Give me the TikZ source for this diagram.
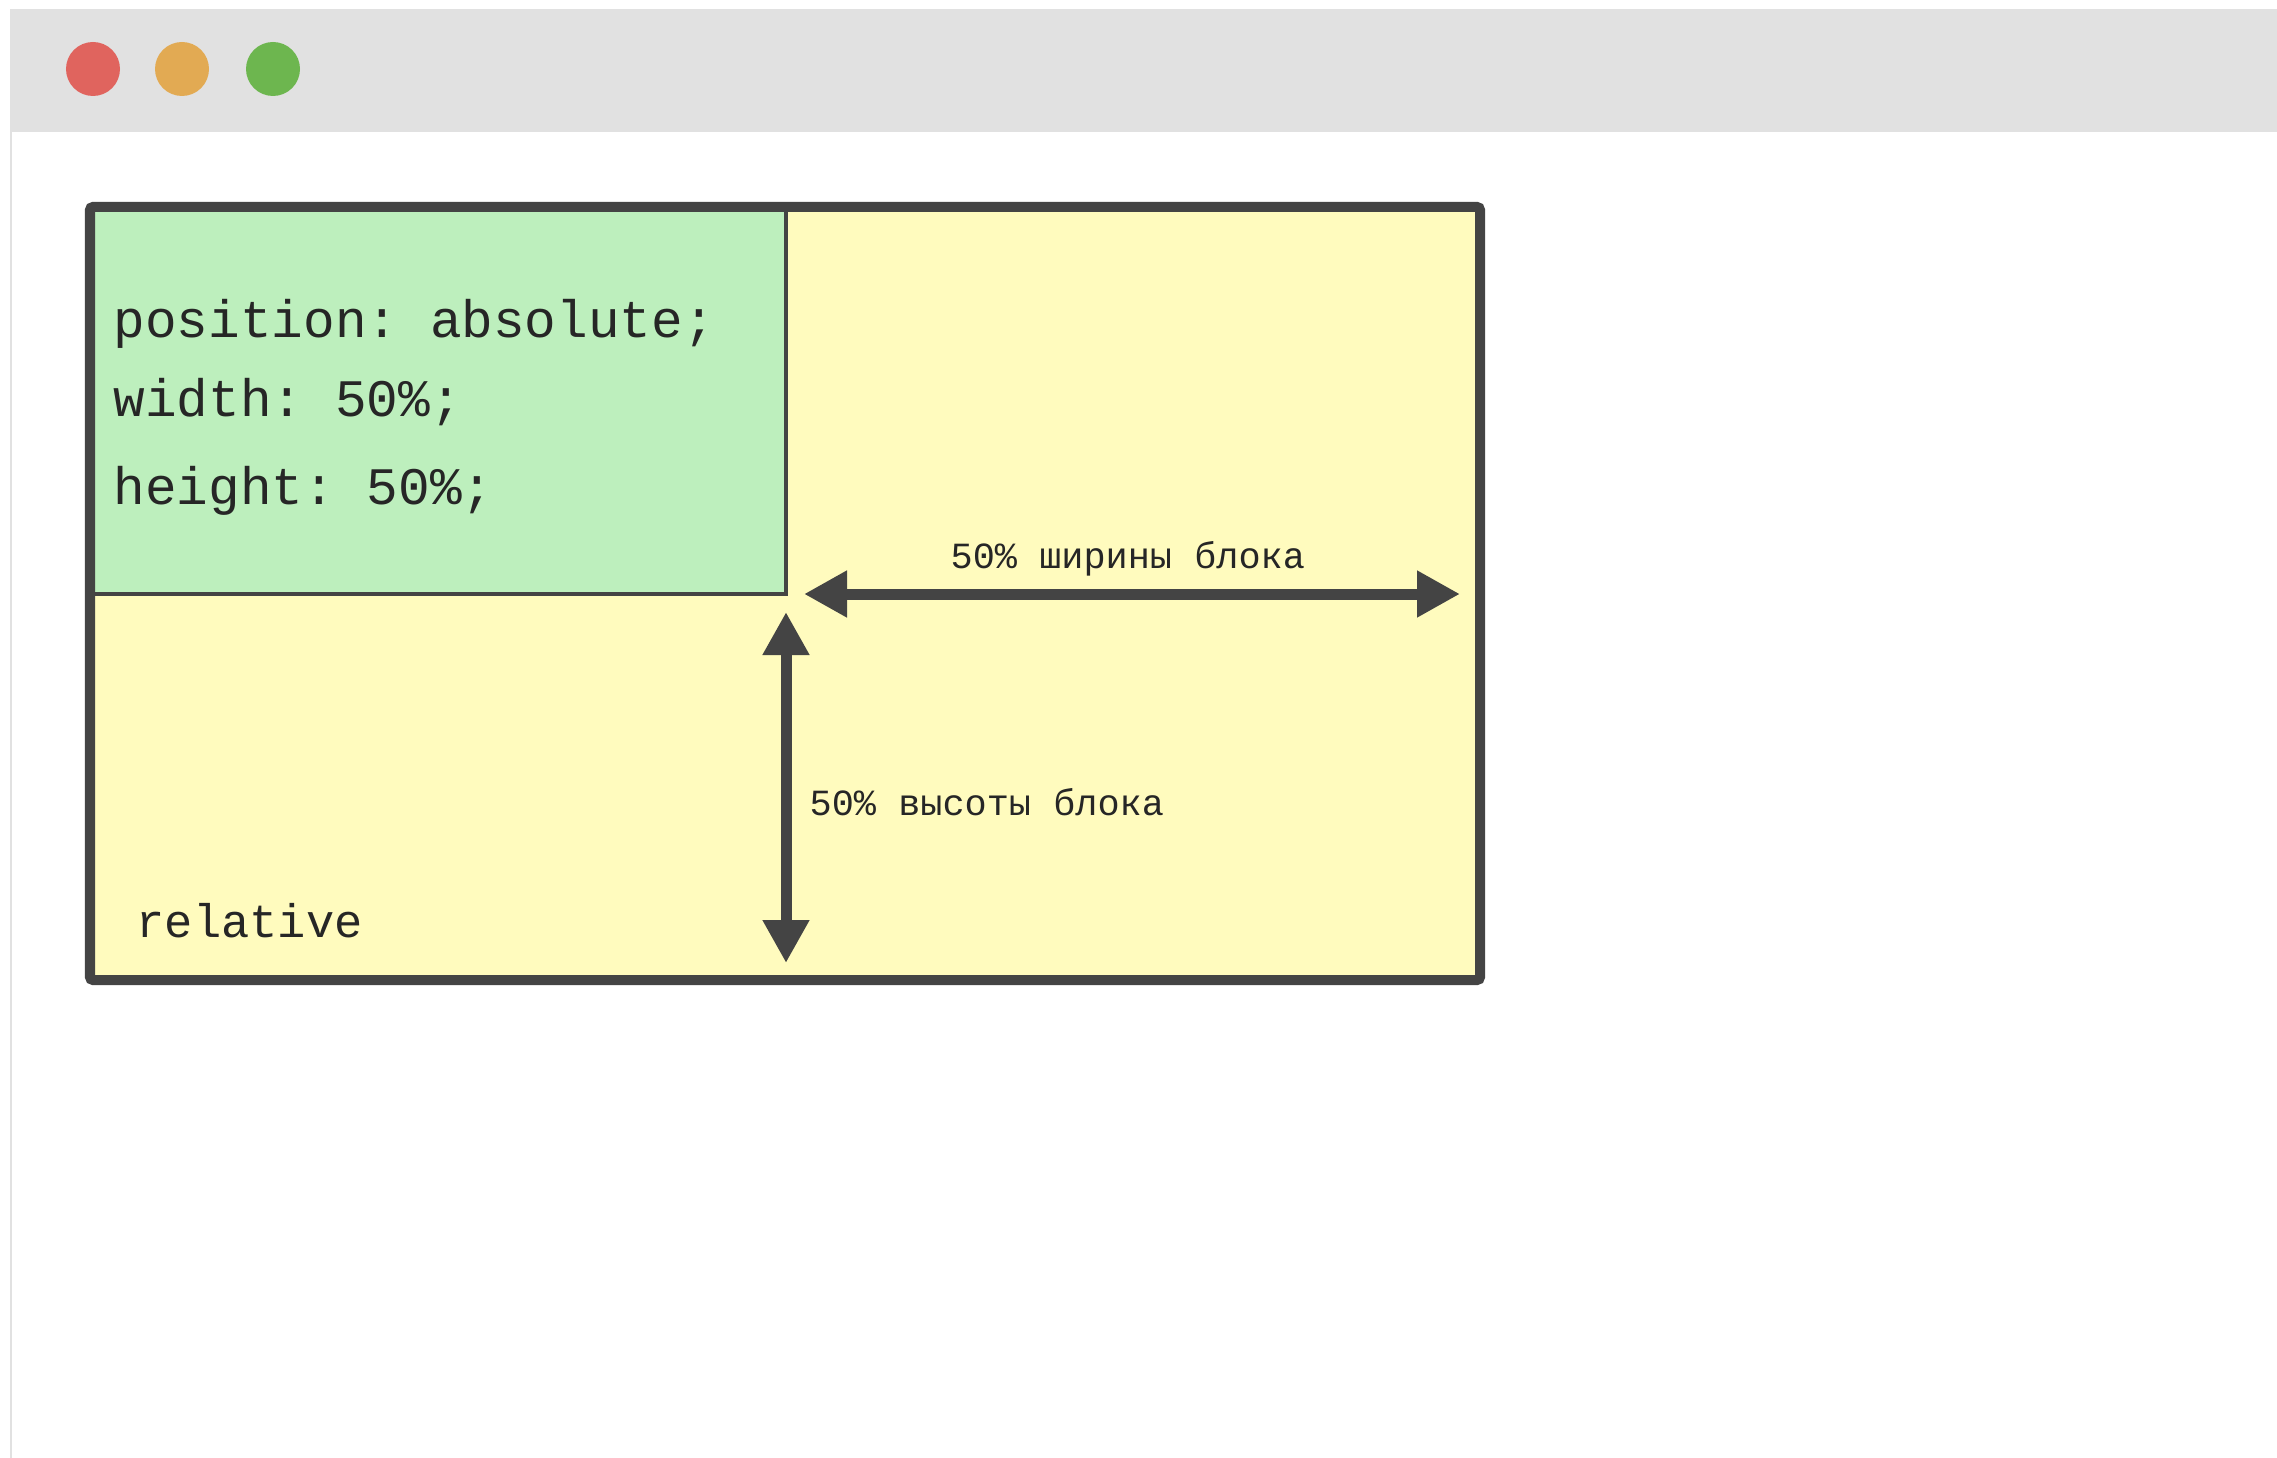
\documentclass[tikz,border=0pt]{standalone}
\usepackage{xcolor}
\usepackage{fontspec}
\setmonofont{Liberation Mono}
\usepackage{tikz}
\usetikzlibrary{arrows.meta}

\definecolor{barcol}{HTML}{E1E1E1}
\definecolor{edgecol}{HTML}{444444}
\definecolor{relcol}{HTML}{FFFBBE}
\definecolor{abscol}{HTML}{BDEFBD}
\definecolor{redbtn}{HTML}{E0645E}
\definecolor{orangebtn}{HTML}{E2AA53}
\definecolor{greenbtn}{HTML}{6DB64F}
\definecolor{inkcol}{HTML}{262626}

\begin{document}
\begin{tikzpicture}[
  code/.style={anchor=base west,inner sep=0pt,text=inkcol,font=\ttfamily\fontsize{15}{18}\selectfont},
  note/.style={anchor=base west,inner sep=0pt,text=inkcol,font=\ttfamily\fontsize{10.5}{12}\selectfont},
  dim/.style={draw=edgecol,line width=0.11cm,{Triangle[length=0.43cm,width=0.44cm]}-{Triangle[length=0.43cm,width=0.44cm]}}]
\useasboundingbox (0,0) rectangle (22.77,-14.58);
\fill[white] (0,0) rectangle (22.77,-14.58);
% window
\fill[barcol] (0.10,-0.09) rectangle (22.77,-1.32);
\draw[barcol,line width=0.02cm] (0.11,-1.32)--(0.11,-14.58);
\fill[redbtn] (0.93,-0.69) circle (0.27cm);
\fill[orangebtn] (1.82,-0.69) circle (0.27cm);
\fill[greenbtn] (2.73,-0.69) circle (0.27cm);
% blocks
\fill[relcol] (0.90,-2.07) rectangle (14.80,-9.80);
\filldraw[fill=abscol,draw=edgecol,line width=0.045cm] (0.90,-2.07) rectangle (7.86,-5.94);
\node[code] (pos) at (1.13,-3.38) {position: absolute;};
\node[code] (wid) at (1.13,-4.16) {width: 50\%;};
\node[code] (hei) at (1.13,-5.04) {height: 50\%;};
\node[code,font=\ttfamily\fontsize{13.4}{16}\selectfont] (rel) at (1.36,-9.37) {relative};
% arrows
\coordinate (wl) at (8.04,-5.94);
\coordinate (wr) at (14.60,-5.94);
\coordinate (ht) at (7.86,-6.12);
\coordinate (hb) at (7.86,-9.63);
\draw[dim] (wl)--(wr);
\draw[dim] (ht)--(hb);
\node[note] (wlab) at (9.50,-5.68) {50\% ширины блока};
\node[note] (hlab) at (8.09,-8.15) {50\% высоты блока};
\draw[edgecol,line width=0.10cm,rounded corners=0.03cm] (0.90,-2.07) rectangle (14.80,-9.80);
\end{tikzpicture}
\end{document}
